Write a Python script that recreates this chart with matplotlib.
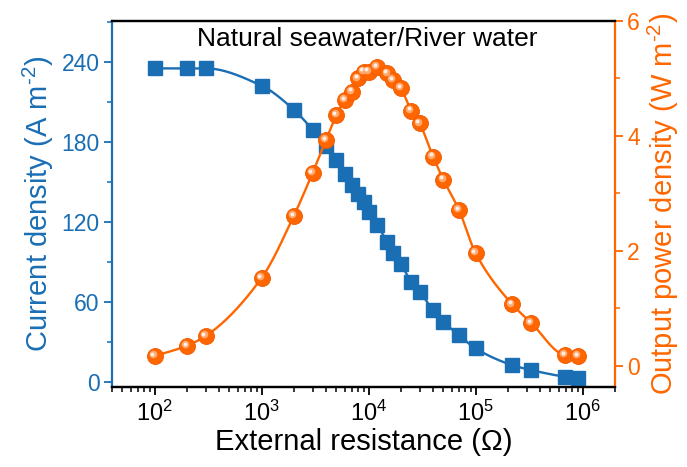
import matplotlib
matplotlib.use("Agg")
import matplotlib.pyplot as plt
import matplotlib.transforms as mtransforms
from matplotlib.ticker import MultipleLocator, LogLocator, NullFormatter
import numpy as np

plt.rcParams['font.family'] = ['Liberation Sans', 'DejaVu Sans']
plt.rcParams['mathtext.fontset'] = 'custom'
plt.rcParams['mathtext.rm'] = 'Liberation Sans'
plt.rcParams['mathtext.it'] = 'Liberation Sans:italic'
plt.rcParams['mathtext.bf'] = 'Liberation Sans:bold'

# external load resistance (ohm)
resistance = [100, 200, 300, 1000, 2000, 3000, 4000, 5000, 6000, 7000, 8000, 9000,
              10000, 12000, 15000, 17000, 20000, 25000, 30000, 40000, 50000, 70000,
              100000, 220000, 330000, 680000, 900000]
# current density (A m^-2)
current = [235, 235, 235, 222, 204, 189, 177, 166.5, 156, 147.5, 141, 135,
           127.5, 117.5, 104.8, 96.5, 88.3, 75, 67.5, 53.8, 45, 35,
           25, 12.5, 8.8, 3.8, 2.5]
# output power density (W m^-2)
power = [0.17, 0.35, 0.52, 1.53, 2.61, 3.36, 3.93, 4.36, 4.63, 4.77, 5.0, 5.12,
         5.12, 5.2, 5.09, 4.97, 4.83, 4.44, 4.22, 3.64, 3.24, 2.71,
         1.96, 1.07, 0.75, 0.19, 0.17]

blue = '#1a6eb4'
orange = '#ff6600'


def pchip(x, y, xs):
    # monotone cubic through the measured points, for the guide line only
    x = np.asarray(x, float)
    y = np.asarray(y, float)
    h = np.diff(x)
    d = np.diff(y) / h
    m = np.zeros_like(y)
    m[0], m[-1] = d[0], d[-1]
    for k in range(1, len(x) - 1):
        if d[k - 1] * d[k] > 0:
            w1 = 2 * h[k] + h[k - 1]
            w2 = h[k] + 2 * h[k - 1]
            m[k] = (w1 + w2) / (w1 / d[k - 1] + w2 / d[k])
    idx = np.clip(np.searchsorted(x, xs) - 1, 0, len(x) - 2)
    t = (xs - x[idx]) / h[idx]
    h00 = 2 * t**3 - 3 * t**2 + 1
    h10 = t**3 - 2 * t**2 + t
    h01 = -2 * t**3 + 3 * t**2
    h11 = t**3 - t**2
    return h00 * y[idx] + h10 * h[idx] * m[idx] + h01 * y[idx + 1] + h11 * h[idx] * m[idx + 1]


lx = np.log10(resistance)
lxs = np.linspace(lx[0], lx[-1], 600)

fig = plt.figure(figsize=(6.87, 4.67), dpi=100)
ax = fig.add_axes([0.163, 0.171, 0.732, 0.784])
ax2 = ax.twinx()

ax.plot(10**lxs, pchip(lx, current, lxs), color=blue, lw=1.7, zorder=2)
ax.plot(resistance, current, 's', color=blue, ms=9.5, mec=blue, zorder=3)

ax2.plot(10**lxs, pchip(lx, power, lxs), color=orange, lw=1.7, zorder=2)
ax2.plot(resistance, power, 'o', color=orange, ms=11.5, mec='#f05a00', mew=0.6, zorder=3)
# glossy highlight on the spheres
hl1 = mtransforms.offset_copy(ax2.transData, fig=fig, x=-1.3, y=1.3, units='points')
hl2 = mtransforms.offset_copy(ax2.transData, fig=fig, x=-1.6, y=1.6, units='points')
ax2.plot(resistance, power, 'o', color='#ffa870', ms=5.5, mew=0, transform=hl1, zorder=4)
ax2.plot(resistance, power, 'o', color='#fff0e6', ms=2.8, mew=0, transform=hl2, zorder=5)

ax.set_xscale('log')
ax.set_xlim(40, 2e6)
ax.set_ylim(-4, 270.5)
ax2.set_ylim(-0.37, 6.0)

ax.set_xticks([1e2, 1e3, 1e4, 1e5, 1e6])
ax.set_xticklabels([r'$10^{2}$', r'$10^{3}$', r'$10^{4}$', r'$10^{5}$', r'$10^{6}$'])
ax.xaxis.set_minor_locator(LogLocator(base=10, subs=np.arange(2, 10), numticks=20))
ax.xaxis.set_minor_formatter(NullFormatter())

ax.yaxis.set_major_locator(MultipleLocator(60))
ax.yaxis.set_minor_locator(MultipleLocator(30))
ax2.yaxis.set_major_locator(MultipleLocator(2))
ax2.yaxis.set_minor_locator(MultipleLocator(1))

ax.tick_params(axis='x', which='major', direction='out', length=6, width=1.3,
               labelsize=17, pad=4, colors='black')
ax.tick_params(axis='x', which='minor', direction='out', length=3.5, width=1.1)
ax.tick_params(axis='y', which='major', direction='out', length=6, width=1.3,
               labelsize=16.5, colors=blue, pad=3)
ax.tick_params(axis='y', which='minor', direction='out', length=3.5, width=1.1, colors=blue)
ax2.tick_params(axis='y', which='major', direction='out', length=6, width=1.3,
                labelsize=16.5, colors=orange, pad=3)
ax2.tick_params(axis='y', which='minor', direction='out', length=3.5, width=1.1, colors=orange)

for a in (ax, ax2):
    for s in a.spines.values():
        s.set_linewidth(1.6)
ax.spines['left'].set_color(blue)
ax.spines['right'].set_visible(False)
ax2.spines['left'].set_visible(False)
ax2.spines['right'].set_color(orange)
ax2.spines['top'].set_color('black')
ax2.spines['bottom'].set_color('black')

ax.set_xlabel('External resistance (\u03a9)', fontsize=21, labelpad=1)
ax.set_ylabel(r'Current density (A m$^{\text{-}2}$)', fontsize=21, color=blue, labelpad=4)
ax2.set_ylabel(r'Output power density (W m$^{\text{-}2}$)', fontsize=21, color=orange, labelpad=4)

ax.text(0.508, 0.985, 'Natural seawater/River water', transform=ax.transAxes,
        ha='center', va='top', fontsize=19, zorder=10)

fig.savefig('out.png', dpi=100)
